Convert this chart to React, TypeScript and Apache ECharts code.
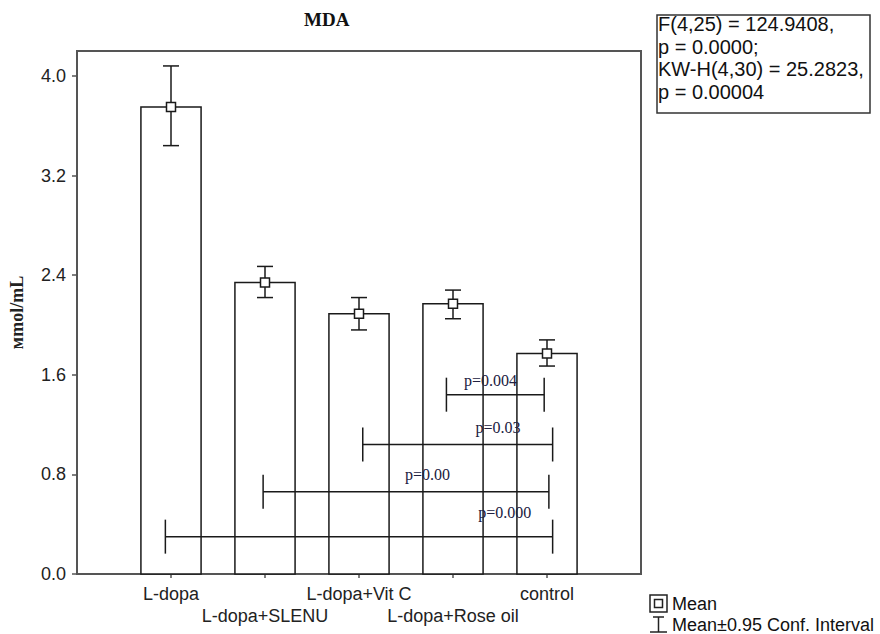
import React, { useEffect, useRef } from "react";
import * as echarts from "echarts";

const categories = ["L-dopa", "L-dopa+SLENU", "L-dopa+Vit C", "L-dopa+Rose oil", "control"];
const means = [3.75, 2.34, 2.09, 2.17, 1.77];
const ciLow = [3.44, 2.22, 1.96, 2.05, 1.67];
const ciHigh = [4.08, 2.47, 2.22, 2.28, 1.88];

const sigLabels = ["p=0.004", "p=0.03", "p=0.00", "p=0.000"];
const sigY = [1.44, 1.04, 0.66, 0.3];
const sigFrom = [3.93, 3.04, 1.98, 0.94];
const sigTo = [4.97, 5.06, 5.02, 5.06];
const sigLabelX = [4.4, 4.48, 3.73, 4.55];
const sigLabelY = [1.55, 1.18, 0.8, 0.49];

const yTicks = [0, 0.8, 1.6, 2.4, 3.2, 4.0];
const xTicks = [1, 2, 3, 4, 5];

const statsLines = ["F(4,25) = 124.9408,", "p = 0.0000;", "KW-H(4,30) = 25.2823,", "p = 0.00004"];

const SANS = '"Liberation Sans", Arial, sans-serif';
const SERIF = '"Liberation Serif", "Times New Roman", serif';

export default function App() {
  const ref = useRef<HTMLDivElement>(null);
  useEffect(() => {
    if (!ref.current) return;
    const chart = echarts.init(ref.current, undefined, { renderer: "svg" });
    const lineCol = "#1a1a1a";
    const option: any = {
      animation: false,
      backgroundColor: "#fff",
      grid: {
        left: 77, right: 239, top: 51, bottom: 60, show: true, borderColor: "#555", borderWidth: 2,
        backgroundColor: "transparent", containLabel: false, outerBoundsMode: "none",
      },
      xAxis: [
        {
          type: "value", min: 0, max: 6, interval: 1, position: "bottom",
          splitLine: { show: false }, axisLine: { show: false },
          axisTick: { show: true, inside: true, length: 4, customValues: xTicks, lineStyle: { color: "#555", width: 1.5 } },
          axisLabel: {
            show: true, customValues: xTicks, margin: 9, fontSize: 18, fontFamily: SANS, color: "#222", lineHeight: 22,
            formatter: (v: number) => {
              const i = Math.round(v) - 1;
              const n = categories[i] ?? "";
              return i % 2 === 1 ? "\n" + n : n;
            },
          },
        },
        {
          type: "value", min: 0, max: 6, interval: 1, position: "top",
          splitLine: { show: false }, axisLine: { show: false },
          axisTick: { show: true, inside: true, length: 4, customValues: xTicks, lineStyle: { color: "#555", width: 1.5 } },
          axisLabel: { show: false },
        },
      ],
      yAxis: [
        {
          type: "value", min: 0, max: 4.2, interval: 0.8, position: "left",
          name: "мmol/mL", nameLocation: "middle", nameGap: 51, nameRotate: 90,
          nameTextStyle: { fontFamily: SERIF, fontWeight: "bold", fontSize: 18, color: "#222" },
          splitLine: { show: false }, axisLine: { show: false }, axisTick: { show: false },
          axisLabel: { customValues: yTicks, margin: 11, fontSize: 18, fontFamily: SANS, color: "#222", formatter: (v: number) => v.toFixed(1) },
        },
        {
          type: "value", min: 0, max: 4.2, interval: 0.8, position: "right",
          splitLine: { show: false }, axisLine: { show: false },
          axisTick: { show: true, inside: true, length: 5, customValues: yTicks, lineStyle: { color: "#555", width: 1.5 } },
          axisLabel: { show: false },
        },
      ],
      series: [
        {
          type: "custom", name: "bars", xAxisIndex: 0, yAxisIndex: 0, z: 2,
          data: means.map((m, i) => [i + 1, m]),
          renderItem: (params: any, api: any) => {
            const x = api.value(0), y = api.value(1);
            const p0 = api.coord([x, 0]);
            const p1 = api.coord([x, y]);
            const w = api.size([0.64, 0])[0];
            return {
              type: "rect",
              shape: { x: p1[0] - w / 2, y: p1[1], width: w, height: p0[1] - p1[1] },
              style: { fill: "#fff", stroke: lineCol, lineWidth: 1.5 },
            };
          },
        },
        {
          type: "custom", name: "ci", xAxisIndex: 0, yAxisIndex: 0, z: 3,
          data: ciLow.map((lo, i) => [i + 1, lo, ciHigh[i]]),
          renderItem: (params: any, api: any) => {
            const x = api.value(0);
            const lo = api.coord([x, api.value(1)]);
            const hi = api.coord([x, api.value(2)]);
            const c = 8;
            const st = { stroke: lineCol, lineWidth: 1.5 };
            return {
              type: "group",
              children: [
                { type: "line", shape: { x1: lo[0], y1: lo[1], x2: hi[0], y2: hi[1] }, style: st },
                { type: "line", shape: { x1: lo[0] - c, y1: lo[1], x2: lo[0] + c, y2: lo[1] }, style: st },
                { type: "line", shape: { x1: hi[0] - c, y1: hi[1], x2: hi[0] + c, y2: hi[1] }, style: st },
              ],
            };
          },
        },
        {
          type: "scatter", name: "Mean", xAxisIndex: 0, yAxisIndex: 0, z: 4,
          symbol: "rect", symbolSize: 9,
          itemStyle: { color: "#fff", borderColor: lineCol, borderWidth: 1.5, opacity: 1 },
          data: means.map((m, i) => [i + 1, m]),
        },
        {
          type: "custom", name: "sig", xAxisIndex: 0, yAxisIndex: 0, z: 5,
          data: sigY.map((y, i) => [sigFrom[i], sigTo[i], y, sigLabelX[i], sigLabelY[i], i]),
          renderItem: (params: any, api: any) => {
            const a = api.coord([api.value(0), api.value(2)]);
            const b = api.coord([api.value(1), api.value(2)]);
            const l = api.coord([api.value(3), api.value(4)]);
            const idx = api.value(5);
            const h = 17;
            const st = { stroke: lineCol, lineWidth: 1.5 };
            return {
              type: "group",
              children: [
                { type: "line", shape: { x1: a[0], y1: a[1], x2: b[0], y2: b[1] }, style: st },
                { type: "line", shape: { x1: a[0], y1: a[1] - h, x2: a[0], y2: a[1] + h }, style: st },
                { type: "line", shape: { x1: b[0], y1: b[1] - h, x2: b[0], y2: b[1] + h }, style: st },
                {
                  type: "text",
                  style: {
                    text: sigLabels[idx], x: l[0], y: l[1], align: "center", verticalAlign: "middle",
                    fontSize: 16, fontFamily: SERIF, fill: "#202040",
                  },
                },
              ],
            };
          },
        },
      ],
      graphic: [
        {
          type: "text", left: 326 - 22, top: 10,
          style: { text: "MDA", fontSize: 19, fontWeight: "bold", fontFamily: SERIF, fill: "#111" },
        },
        {
          type: "rect", shape: { x: 657, y: 15, width: 213, height: 98 },
          style: { fill: "#fff", stroke: "#333", lineWidth: 1.5 },
        },
        {
          type: "text", x: 658, y: 13,
          style: { text: statsLines.join("\n"), fontSize: 20, lineHeight: 22.5, fontFamily: SANS, fill: "#111", verticalAlign: "top" },
        },
        { type: "rect", shape: { x: 650, y: 595, width: 17, height: 17 }, style: { fill: "#fff", stroke: "#222", lineWidth: 1.5 } },
        { type: "rect", shape: { x: 654.5, y: 599.5, width: 8, height: 8 }, style: { fill: "#fff", stroke: "#222", lineWidth: 1.5 } },
        { type: "text", x: 672, y: 604, style: { text: "Mean", fontSize: 18, fontFamily: SANS, fill: "#111", verticalAlign: "middle" } },
        { type: "line", shape: { x1: 658.5, y1: 617, x2: 658.5, y2: 632 }, style: { stroke: "#222", lineWidth: 1.5 } },
        { type: "line", shape: { x1: 653, y1: 617, x2: 664, y2: 617 }, style: { stroke: "#222", lineWidth: 1.5 } },
        { type: "line", shape: { x1: 650, y1: 632, x2: 667, y2: 632 }, style: { stroke: "#222", lineWidth: 1.5 } },
        { type: "text", x: 672, y: 625, style: { text: "Mean±0.95 Conf. Interval", fontSize: 18, fontFamily: SANS, fill: "#111", verticalAlign: "middle" } },
      ],
    };
    chart.setOption(option);
    return () => chart.dispose();
  }, []);
  return <div ref={ref} style={{ position: "fixed", left: 0, top: 0, width: 880, height: 634 }} />;
}
